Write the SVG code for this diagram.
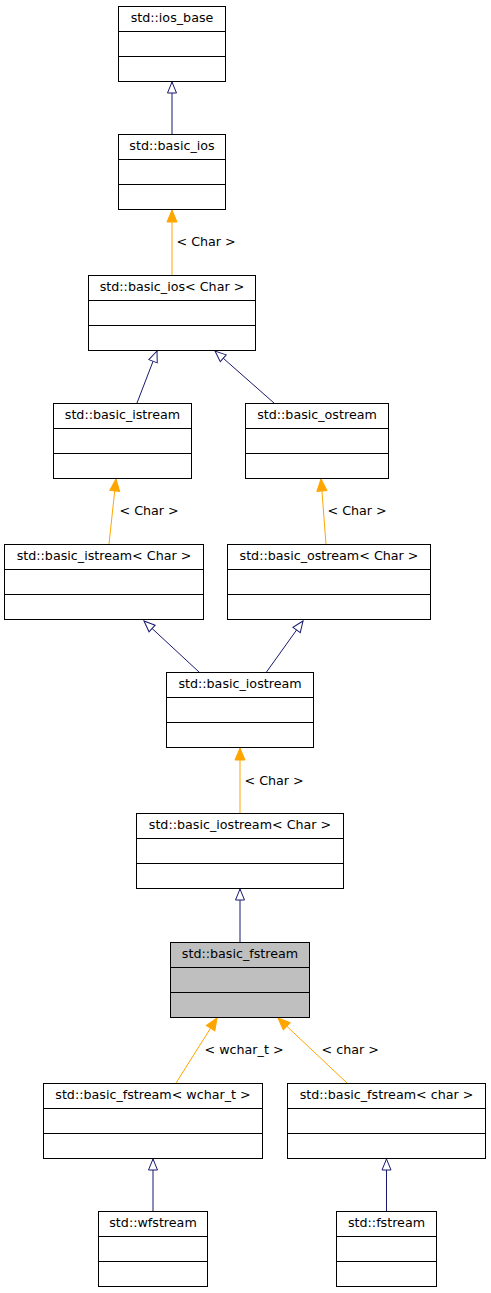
<svg xmlns="http://www.w3.org/2000/svg" width="491" height="1293" viewBox="0 0 491 1293">
<style>
.box{fill:#fff;stroke:#000;stroke-width:1}
.hl{fill:#bfbfbf}
.div{stroke:#000;stroke-width:1}
.t{font-family:"DejaVu Sans",sans-serif;font-size:12.7px;fill:#000}
.inh{stroke:#191970;stroke-width:1;fill:none}
.tpl{stroke:#ffa500;stroke-width:1;fill:none}
</style>
<defs>
<marker id="open" markerUnits="userSpaceOnUse" markerWidth="14" markerHeight="12" viewBox="-12 -6 14 12" refX="0" refY="0" orient="auto">
<polygon points="0,0 -11,-4.5 -11,4.5" fill="#fff" stroke="#191970" stroke-width="1"/>
</marker>
<marker id="fill" markerUnits="userSpaceOnUse" markerWidth="14" markerHeight="12" viewBox="-13 -6 14 12" refX="0" refY="0" orient="auto">
<polygon points="0,0 -12,-5 -12,5" fill="#ffa500" stroke="#ffa500" stroke-width="1"/>
</marker>
</defs>
<rect width="491" height="1293" fill="#fff"/>
<g id="connectors">
<line class="inh" x1="172" y1="134" x2="172" y2="82" marker-end="url(#open)"/>
<line class="tpl" x1="172" y1="275" x2="172" y2="210" marker-end="url(#fill)"/>
<text class="t" x="176.5" y="245.5">&lt; Char &gt;</text>
<line class="inh" x1="137" y1="403" x2="157" y2="351" marker-end="url(#open)"/>
<line class="inh" x1="274" y1="403" x2="215" y2="351" marker-end="url(#open)"/>
<line class="tpl" x1="109" y1="544" x2="116" y2="479" marker-end="url(#fill)"/>
<text class="t" x="119.5" y="514.5">&lt; Char &gt;</text>
<line class="tpl" x1="326" y1="544" x2="321" y2="479" marker-end="url(#fill)"/>
<text class="t" x="327.5" y="514.5">&lt; Char &gt;</text>
<line class="inh" x1="199" y1="672" x2="144" y2="621" marker-end="url(#open)"/>
<line class="inh" x1="266.5" y1="672" x2="303" y2="621" marker-end="url(#open)"/>
<line class="tpl" x1="240" y1="813" x2="240" y2="748" marker-end="url(#fill)"/>
<text class="t" x="244.5" y="784.5">&lt; Char &gt;</text>
<line class="inh" x1="240" y1="942" x2="240" y2="889" marker-end="url(#open)"/>
<line class="tpl" x1="176" y1="1083" x2="217" y2="1018" marker-end="url(#fill)"/>
<text class="t" x="204.5" y="1053.5">&lt; wchar_t &gt;</text>
<line class="tpl" x1="347" y1="1083" x2="278" y2="1018" marker-end="url(#fill)"/>
<text class="t" x="321.5" y="1053.5">&lt; char &gt;</text>
<line class="inh" x1="153" y1="1211" x2="153" y2="1159" marker-end="url(#open)"/>
<line class="inh" x1="386.5" y1="1211" x2="386.5" y2="1159" marker-end="url(#open)"/>
</g>
<g id="ios_base">
<rect class="box" x="118.5" y="6.5" width="107" height="75"/>
<line class="div" x1="118.5" y1="31.5" x2="225.5" y2="31.5"/>
<line class="div" x1="118.5" y1="56.5" x2="225.5" y2="56.5"/>
<text class="t" x="172" y="22" text-anchor="middle">std::ios_base</text>
</g>
<g id="basic_ios">
<rect class="box" x="118.5" y="134.5" width="107" height="75"/>
<line class="div" x1="118.5" y1="159.5" x2="225.5" y2="159.5"/>
<line class="div" x1="118.5" y1="184.5" x2="225.5" y2="184.5"/>
<text class="t" x="172" y="150" text-anchor="middle">std::basic_ios</text>
</g>
<g id="basic_ios_char">
<rect class="box" x="88.5" y="275.5" width="167" height="75"/>
<line class="div" x1="88.5" y1="300.5" x2="255.5" y2="300.5"/>
<line class="div" x1="88.5" y1="325.5" x2="255.5" y2="325.5"/>
<text class="t" x="172" y="291" text-anchor="middle">std::basic_ios&lt; Char &gt;</text>
</g>
<g id="basic_istream">
<rect class="box" x="53.5" y="403.5" width="138" height="75"/>
<line class="div" x1="53.5" y1="428.5" x2="191.5" y2="428.5"/>
<line class="div" x1="53.5" y1="453.5" x2="191.5" y2="453.5"/>
<text class="t" x="122.5" y="419" text-anchor="middle">std::basic_istream</text>
</g>
<g id="basic_ostream">
<rect class="box" x="245.5" y="403.5" width="143" height="75"/>
<line class="div" x1="245.5" y1="428.5" x2="388.5" y2="428.5"/>
<line class="div" x1="245.5" y1="453.5" x2="388.5" y2="453.5"/>
<text class="t" x="317" y="419" text-anchor="middle">std::basic_ostream</text>
</g>
<g id="basic_istream_char">
<rect class="box" x="4.5" y="544.5" width="199" height="75"/>
<line class="div" x1="4.5" y1="569.5" x2="203.5" y2="569.5"/>
<line class="div" x1="4.5" y1="594.5" x2="203.5" y2="594.5"/>
<text class="t" x="104" y="560" text-anchor="middle">std::basic_istream&lt; Char &gt;</text>
</g>
<g id="basic_ostream_char">
<rect class="box" x="227.5" y="544.5" width="203" height="75"/>
<line class="div" x1="227.5" y1="569.5" x2="430.5" y2="569.5"/>
<line class="div" x1="227.5" y1="594.5" x2="430.5" y2="594.5"/>
<text class="t" x="329" y="560" text-anchor="middle">std::basic_ostream&lt; Char &gt;</text>
</g>
<g id="basic_iostream">
<rect class="box" x="166.5" y="672.5" width="147" height="75"/>
<line class="div" x1="166.5" y1="697.5" x2="313.5" y2="697.5"/>
<line class="div" x1="166.5" y1="722.5" x2="313.5" y2="722.5"/>
<text class="t" x="240" y="688" text-anchor="middle">std::basic_iostream</text>
</g>
<g id="basic_iostream_char">
<rect class="box" x="136.5" y="813.5" width="207" height="75"/>
<line class="div" x1="136.5" y1="838.5" x2="343.5" y2="838.5"/>
<line class="div" x1="136.5" y1="863.5" x2="343.5" y2="863.5"/>
<text class="t" x="240" y="829" text-anchor="middle">std::basic_iostream&lt; Char &gt;</text>
</g>
<g id="basic_fstream">
<rect class="box hl" x="170.5" y="942.5" width="139" height="75"/>
<line class="div" x1="170.5" y1="967.5" x2="309.5" y2="967.5"/>
<line class="div" x1="170.5" y1="992.5" x2="309.5" y2="992.5"/>
<text class="t" x="240" y="958" text-anchor="middle">std::basic_fstream</text>
</g>
<g id="basic_fstream_wchar">
<rect class="box" x="43.5" y="1083.5" width="219" height="75"/>
<line class="div" x1="43.5" y1="1108.5" x2="262.5" y2="1108.5"/>
<line class="div" x1="43.5" y1="1133.5" x2="262.5" y2="1133.5"/>
<text class="t" x="153" y="1099" text-anchor="middle">std::basic_fstream&lt; wchar_t &gt;</text>
</g>
<g id="basic_fstream_char">
<rect class="box" x="287.5" y="1083.5" width="198" height="75"/>
<line class="div" x1="287.5" y1="1108.5" x2="485.5" y2="1108.5"/>
<line class="div" x1="287.5" y1="1133.5" x2="485.5" y2="1133.5"/>
<text class="t" x="386.5" y="1099" text-anchor="middle">std::basic_fstream&lt; char &gt;</text>
</g>
<g id="wfstream">
<rect class="box" x="98.5" y="1211.5" width="109" height="75"/>
<line class="div" x1="98.5" y1="1236.5" x2="207.5" y2="1236.5"/>
<line class="div" x1="98.5" y1="1261.5" x2="207.5" y2="1261.5"/>
<text class="t" x="153" y="1227" text-anchor="middle">std::wfstream</text>
</g>
<g id="fstream">
<rect class="box" x="336.5" y="1211.5" width="100" height="75"/>
<line class="div" x1="336.5" y1="1236.5" x2="436.5" y2="1236.5"/>
<line class="div" x1="336.5" y1="1261.5" x2="436.5" y2="1261.5"/>
<text class="t" x="386.5" y="1227" text-anchor="middle">std::fstream</text>
</g>
</svg>
